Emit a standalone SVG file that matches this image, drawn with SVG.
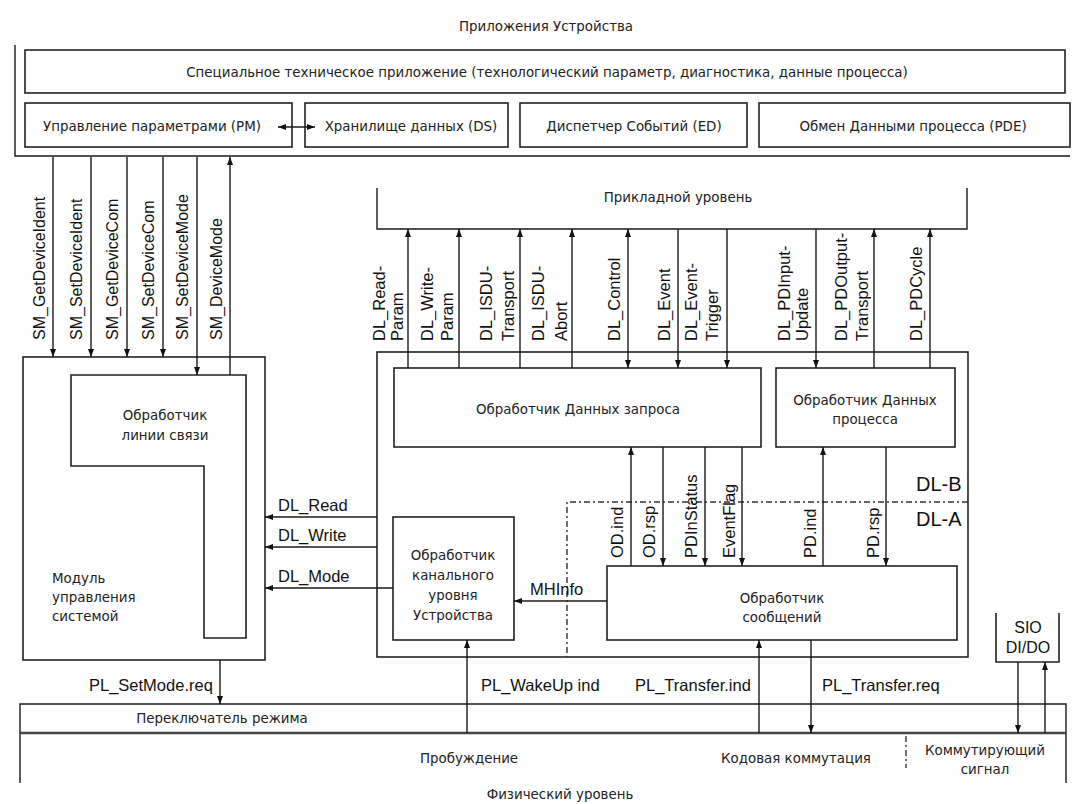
<svg xmlns="http://www.w3.org/2000/svg" width="1073" height="804" viewBox="0 0 1073 804">
<style>
.box{fill:none;stroke:#222;stroke-width:1.6}
.ln{fill:none;stroke:#1a1a1a;stroke-width:1.4}
.dash{fill:none;stroke:#333;stroke-width:1.4;stroke-dasharray:6 3 2 3}
.ru{font-family:"DejaVu Sans","Liberation Sans",sans-serif;font-size:13.4px;fill:#222;text-anchor:middle}
.ruL{font-family:"DejaVu Sans","Liberation Sans",sans-serif;font-size:13.4px;fill:#222}
.lat{font-family:"Liberation Sans",Arial,sans-serif;font-size:16.5px;fill:#111}
.sm{font-family:"Liberation Sans",Arial,sans-serif;font-size:16px;fill:#111}
.big{font-family:"Liberation Sans",Arial,sans-serif;font-size:20px;fill:#111}
</style>
<defs>
<marker id="ah" viewBox="0 0 8 6" refX="8" refY="3" markerWidth="8" markerHeight="6" markerUnits="userSpaceOnUse" orient="auto-start-reverse">
<path d="M0,0 L8,3 L0,6 z" fill="#111"/>
</marker>
</defs>
<rect width="1073" height="804" fill="#fff"/>

<g id="device-apps">
<text class="ru" x="546" y="31">Приложения Устройства</text>
<path class="ln" d="M15,45 V156 H1070"/>
</g>
<g id="special-app">
<rect class="box" x="25" y="50" width="1040" height="43"/>
<text class="ru" x="547" y="77">Специальное техническое приложение (технологический параметр, диагностика, данные процесса)</text>
</g>
<g id="pm">
<rect class="box" x="25" y="103" width="267" height="44"/>
<text class="ru" x="152" y="131">Управление параметрами (PM)</text>
</g>
<g id="ds">
<rect class="box" x="305" y="103" width="203" height="44"/>
<text class="ru" x="411" y="131">Хранилище данных (DS)</text>
</g>
<g id="ed">
<rect class="box" x="520" y="103" width="227" height="44"/>
<text class="ru" x="634" y="131">Диспетчер Событий (ED)</text>
</g>
<g id="pde">
<rect class="box" x="759" y="103" width="311" height="44"/>
<text class="ru" x="913" y="131">Обмен Данными процесса (PDE)</text>
</g>

<g id="app-layer">
<path class="ln" d="M377,188 V229 H967 V188"/>
<text class="ru" x="678" y="202">Прикладной уровень</text>
</g>

<g id="sm-module">
<rect class="box" x="23" y="357" width="242" height="303"/>
<text class="ruL" x="52" y="583">Модуль</text>
<text class="ruL" x="52" y="602">управления</text>
<text class="ruL" x="52" y="621">системой</text>
</g>
<g id="line-handler">
<path class="box" d="M71,375 H246 V638 H204 V466 H71 Z"/>
<text class="ru" x="165" y="420">Обработчик</text>
<text class="ru" x="165" y="440">линии связи</text>
</g>

<g id="dl-layer">
<rect class="box" x="377" y="352" width="591" height="305"/>
<text class="big" x="916" y="491">DL-B</text>
<text class="big" x="916" y="526">DL-A</text>
<path class="dash" d="M968,502 H567 V657"/>
</g>
<g id="od-handler">
<rect class="box" x="394" y="368" width="367" height="79"/>
<text class="ru" x="578" y="414">Обработчик Данных запроса</text>
</g>
<g id="pd-handler">
<rect class="box" x="776" y="368" width="179" height="79"/>
<text class="ru" x="865" y="405">Обработчик Данных</text>
<text class="ru" x="865" y="424">процесса</text>
</g>
<g id="dl-mode-handler">
<rect class="box" x="393" y="517" width="121" height="123"/>
<text class="ru" x="453" y="560">Обработчик</text>
<text class="ru" x="453" y="580">канального</text>
<text class="ru" x="453" y="600">уровня</text>
<text class="ru" x="453" y="620">Устройства</text>
</g>
<g id="message-handler">
<rect class="box" x="607" y="566" width="350" height="74"/>
<text class="ru" x="782" y="603">Обработчик</text>
<text class="ru" x="782" y="622">сообщений</text>
</g>
<g id="sio">
<path class="box" d="M996,613 V662 H1059 V613"/>
<text class="sm" x="1028" y="633" text-anchor="middle">SIO</text>
<text class="sm" x="1028" y="653" text-anchor="middle">DI/DO</text>
</g>

<g id="physical-layer">
<path class="ln" d="M20,783 V704 H1066 V783"/>
<path d="M20,733 H1066" stroke="#444" stroke-width="2.4"/>
<path class="dash" d="M906,736 V768"/>
<text class="ru" x="222" y="723">Переключатель режима</text>
<text class="ru" x="469" y="763">Пробуждение</text>
<text class="ru" x="796" y="763">Кодовая коммутация</text>
<text class="ru" x="985" y="755">Коммутирующий</text>
<text class="ru" x="985" y="774">сигнал</text>
<text class="ru" x="560" y="799">Физический уровень</text>
</g>

<g id="connectors">
<path class="ln" d="M278,127 H315" marker-start="url(#ah)" marker-end="url(#ah)"/>
<!-- SM -->
<path class="ln" d="M53,157 V357" marker-end="url(#ah)"/>
<path class="ln" d="M91,157 V357" marker-end="url(#ah)"/>
<path class="ln" d="M127,157 V357" marker-end="url(#ah)"/>
<path class="ln" d="M163,157 V357" marker-end="url(#ah)"/>
<path class="ln" d="M197,157 V375" marker-end="url(#ah)"/>
<path class="ln" d="M230,375 V157" marker-end="url(#ah)"/>
<g class="sm">
<text transform="translate(45,340) rotate(-90)">SM_GetDeviceIdent</text>
<text transform="translate(82,340) rotate(-90)">SM_SetDeviceIdent</text>
<text transform="translate(118,340) rotate(-90)">SM_GetDeviceCom</text>
<text transform="translate(154,340) rotate(-90)">SM_SetDeviceCom</text>
<text transform="translate(188,340) rotate(-90)">SM_SetDeviceMode</text>
<text transform="translate(222,340) rotate(-90)">SM_DeviceMode</text>
</g>
<!-- DL services -->
<path class="ln" d="M408,368 V229" marker-end="url(#ah)"/>
<path class="ln" d="M459,368 V229" marker-end="url(#ah)"/>
<path class="ln" d="M520,368 V229" marker-end="url(#ah)"/>
<path class="ln" d="M572,368 V229" marker-end="url(#ah)"/>
<path class="ln" d="M628,229 V368" marker-start="url(#ah)" marker-end="url(#ah)"/>
<path class="ln" d="M678,229 V368" marker-end="url(#ah)"/>
<path class="ln" d="M727,229 V368" marker-end="url(#ah)"/>
<path class="ln" d="M816,229 V368" marker-end="url(#ah)"/>
<path class="ln" d="M874,368 V229" marker-end="url(#ah)"/>
<path class="ln" d="M930,368 V229" marker-end="url(#ah)"/>
<g class="lat">
<text transform="translate(385,341) rotate(-90)">DL_Read-</text>
<text transform="translate(403,341) rotate(-90)">Param</text>
<text transform="translate(433,341) rotate(-90)">DL_Write-</text>
<text transform="translate(453,341) rotate(-90)">Param</text>
<text transform="translate(492,341) rotate(-90)">DL_ISDU-</text>
<text transform="translate(514,341) rotate(-90)">Transport</text>
<text transform="translate(544,341) rotate(-90)">DL_ISDU-</text>
<text transform="translate(567,341) rotate(-90)">Abort</text>
<text transform="translate(620,341) rotate(-90)">DL_Control</text>
<text transform="translate(670,341) rotate(-90)">DL_Event</text>
<text transform="translate(697,341) rotate(-90)">DL_Event-</text>
<text transform="translate(718,341) rotate(-90)">Trigger</text>
<text transform="translate(790,341) rotate(-90)">DL_PDInput-</text>
<text transform="translate(808,341) rotate(-90)">Update</text>
<text transform="translate(847,341) rotate(-90)">DL_PDOutput-</text>
<text transform="translate(868,341) rotate(-90)">Transport</text>
<text transform="translate(922,341) rotate(-90)">DL_PDCycle</text>
</g>
<!-- internal DL -->
<path class="ln" d="M631,566 V447" marker-end="url(#ah)"/>
<path class="ln" d="M663,447 V566" marker-end="url(#ah)"/>
<path class="ln" d="M705,447 V566" marker-end="url(#ah)"/>
<path class="ln" d="M742,447 V566" marker-end="url(#ah)"/>
<path class="ln" d="M823,566 V447" marker-end="url(#ah)"/>
<path class="ln" d="M886,447 V566" marker-end="url(#ah)"/>
<g class="lat">
<text transform="translate(623,558) rotate(-90)">OD.ind</text>
<text transform="translate(655,558) rotate(-90)">OD.rsp</text>
<text transform="translate(697,558) rotate(-90)">PDInStatus</text>
<text transform="translate(735,558) rotate(-90)">EventFlag</text>
<text transform="translate(816,558) rotate(-90)">PD.ind</text>
<text transform="translate(879,558) rotate(-90)">PD.rsp</text>
</g>
<!-- DL to SM -->
<path class="ln" d="M377,517 H265" marker-end="url(#ah)"/>
<path class="ln" d="M377,547 H265" marker-end="url(#ah)"/>
<path class="ln" d="M393,588 H265" marker-end="url(#ah)"/>
<text class="lat" x="278" y="511">DL_Read</text>
<text class="lat" x="278" y="541">DL_Write</text>
<text class="lat" x="278" y="582">DL_Mode</text>
<path class="ln" d="M607,601 H514" marker-end="url(#ah)"/>
<text class="lat" x="530" y="595">MHInfo</text>
<!-- PL -->
<path class="ln" d="M220,660 V704" marker-end="url(#ah)"/>
<path class="ln" d="M467,733 V640" marker-end="url(#ah)"/>
<path class="ln" d="M759,733 V640" marker-end="url(#ah)"/>
<path class="ln" d="M811,640 V733" marker-end="url(#ah)"/>
<path class="ln" d="M1018,662 V733" marker-end="url(#ah)"/>
<path class="ln" d="M1045,733 V662" marker-end="url(#ah)"/>
<text class="lat" x="89" y="691">PL_SetMode.req</text>
<text class="lat" x="481" y="691">PL_WakeUp ind</text>
<text class="lat" x="635" y="691">PL_Transfer.ind</text>
<text class="lat" x="822" y="691">PL_Transfer.req</text>
</g>
</svg>
